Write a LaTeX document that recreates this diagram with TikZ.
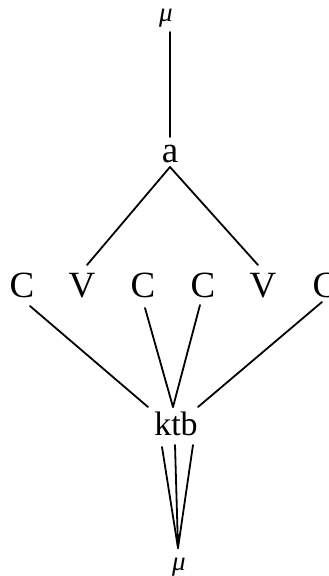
\documentclass[tikz,border=0pt]{standalone}
\usepackage{fontspec}
\setmainfont{Liberation Serif}
\begin{document}
\begin{tikzpicture}[x=1pt,y=-1pt,
  seg/.style={inner sep=0pt,anchor=base,font=\fontsize{37}{37}\selectfont},
  morph/.style={inner sep=0pt,anchor=base,font=\fontsize{34}{34}\selectfont},
  mulab/.style={inner sep=0pt,anchor=base,font=\fontsize{27}{27}\selectfont\itshape},
  link/.style={line width=1.8pt,line cap=round}]
\useasboundingbox (0,0) rectangle (329,576);
% nodes
\node[mulab] (mt) at (166,21) {μ};
\node[seg] (a) at (170,162) {a};
\node[seg] (c1) at (22,297) {C};
\node[seg] (v2) at (82,297) {V};
\node[seg] (c3) at (143,297) {C};
\node[seg] (c4) at (203,297) {C};
\node[seg] (v5) at (263,297) {V};
\node[seg] (c6) at (325,297) {C};
\node[morph] (ktb) at (176,435) {ktb};
\node[mulab] (mb) at (179,570) {μ};
% connector ends
\coordinate (mt-e) at (170,32);
\coordinate (a-n) at (170,137);
\coordinate (a-s) at (170,167);
\coordinate (v2-n) at (87,265);
\coordinate (v5-n) at (258,265);
\coordinate (c1-s) at (30,306);
\coordinate (c3-s) at (145,308);
\coordinate (c4-s) at (200,305);
\coordinate (c6-s) at (322,302);
\coordinate (k-l) at (148,407);
\coordinate (k-m) at (173,407);
\coordinate (k-r) at (198,407);
\coordinate (kb-l) at (162,447);
\coordinate (kb-m) at (175,445);
\coordinate (kb-r) at (193,445);
\coordinate (tip) at (178,548);
% connectors
\draw[link] (mt-e) -- (a-n);
\draw[link] (a-s) -- (v2-n);
\draw[link] (a-s) -- (v5-n);
\draw[link] (c1-s) -- (k-l);
\draw[link] (c3-s) -- (k-m);
\draw[link] (c4-s) -- (k-m);
\draw[link] (c6-s) -- (k-r);
\draw[link] (kb-l) -- (tip);
\draw[link] (kb-m) -- (tip);
\draw[link] (kb-r) -- (tip);
\fill (tip) -- ++(-2.5,-14) -- ++(5,0) -- cycle;
\end{tikzpicture}
\end{document}
